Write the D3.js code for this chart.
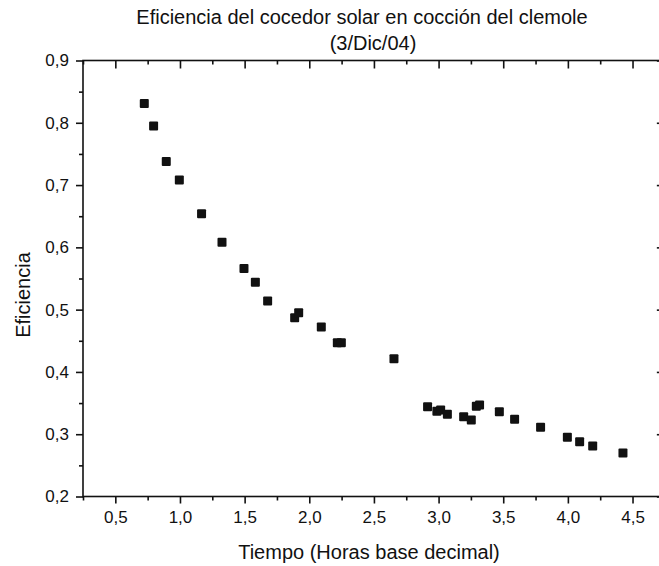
<!DOCTYPE html>
<html>
<head>
<meta charset="utf-8">
<script src="https://cdn.jsdelivr.net/npm/d3@7"></script>
<style>
  body { margin: 0; background: #fff; }
  text { font-family: "Liberation Sans", Arial, sans-serif; fill: #111; }
</style>
</head>
<body>
<div id="chart"></div>
<script>
// data (time in decimal hours, efficiency)
var tiempo = [0.724, 0.796, 0.894, 0.995, 1.167, 1.325, 1.495, 1.583, 1.678, 1.887, 1.918,
    2.093, 2.217, 2.248, 2.655, 2.915, 2.987, 3.016, 3.068, 3.194, 3.253, 3.292, 3.317,
    3.47, 3.588, 3.789, 3.996, 4.091, 4.192, 4.426];
var eficiencia = [0.831, 0.795, 0.738, 0.708, 0.654, 0.608, 0.566, 0.544, 0.514, 0.487, 0.495,
    0.472, 0.447, 0.447, 0.421, 0.344, 0.337, 0.339, 0.332, 0.328, 0.323, 0.345, 0.347,
    0.336, 0.324, 0.311, 0.295, 0.288, 0.281, 0.270];
var xTicks = [0.5, 1.0, 1.5, 2.0, 2.5, 3.0, 3.5, 4.0, 4.5];
var yTicks = [0.2, 0.3, 0.4, 0.5, 0.6, 0.7, 0.8, 0.9];

var W = 659, H = 566;
var margin = {top: 60.5, left: 83, bottom: 69.5};

var x = d3.scaleLinear().domain([0.25, 4.75]).range([margin.left, margin.left + 4.5 * 129.3]);
var y = d3.scaleLinear().domain([0.2, 0.9]).range([H - margin.bottom, margin.top]);

var fmt = function(d) { return d3.format(".1f")(d).replace(".", ","); };

var svg = d3.select("#chart").append("svg")
    .attr("width", W)
    .attr("height", H);

var xMinor = d3.range(0.25, 4.8, 0.5);
var yMinor = d3.range(0.25, 0.9, 0.1);

// bottom axis, ticks outward
svg.append("g")
    .attr("transform", "translate(0," + y(0.2) + ")")
    .call(d3.axisBottom(x).tickValues(xTicks).tickFormat(fmt).tickSize(7).tickPadding(7))
    .call(function(g) { g.select(".domain").remove(); })
    .call(function(g) { g.selectAll("text").style("font-size", "17px").attr("font-family", null); });
svg.append("g")
    .attr("transform", "translate(0," + y(0.2) + ")")
    .call(d3.axisBottom(x).tickValues(xMinor).tickFormat("").tickSize(4))
    .call(function(g) { g.select(".domain").remove(); });

// left axis, ticks outward
svg.append("g")
    .attr("transform", "translate(" + x(0.25) + ",0)")
    .call(d3.axisLeft(y).tickValues(yTicks).tickFormat(fmt).tickSize(7).tickPadding(7))
    .call(function(g) { g.select(".domain").remove(); })
    .call(function(g) { g.selectAll("text").style("font-size", "17px").attr("font-family", null); });
svg.append("g")
    .attr("transform", "translate(" + x(0.25) + ",0)")
    .call(d3.axisLeft(y).tickValues(yMinor).tickFormat("").tickSize(4))
    .call(function(g) { g.select(".domain").remove(); });

// top axis, ticks inward
svg.append("g")
    .attr("transform", "translate(0," + y(0.9) + ")")
    .call(d3.axisBottom(x).tickValues(xTicks).tickFormat("").tickSize(8))
    .call(function(g) { g.select(".domain").remove(); });
svg.append("g")
    .attr("transform", "translate(0," + y(0.9) + ")")
    .call(d3.axisBottom(x).tickValues(xMinor).tickFormat("").tickSize(4))
    .call(function(g) { g.select(".domain").remove(); });

// right axis, ticks inward (axis itself falls just past the window edge)
svg.append("g")
    .attr("transform", "translate(" + x(4.75) + ",0)")
    .call(d3.axisLeft(y).tickValues(yTicks).tickFormat("").tickSize(8))
    .call(function(g) { g.select(".domain").remove(); });
svg.append("g")
    .attr("transform", "translate(" + x(4.75) + ",0)")
    .call(d3.axisLeft(y).tickValues(yMinor).tickFormat("").tickSize(4))
    .call(function(g) { g.select(".domain").remove(); });

svg.selectAll(".tick line").attr("stroke", "#111").attr("stroke-width", 1.6);

// frame
svg.append("rect")
    .attr("x", x(0.25))
    .attr("y", y(0.9))
    .attr("width", x(4.75) - x(0.25))
    .attr("height", y(0.2) - y(0.9))
    .attr("fill", "none")
    .attr("stroke", "#111")
    .attr("stroke-width", 1.6);

// points
var pts = tiempo.map(function(t, i) { return {t: t, e: eficiencia[i]}; });
var s = 9;
svg.append("g").selectAll("rect")
    .data(pts)
    .enter().append("rect")
    .attr("x", function(d) { return x(d.t) - s / 2; })
    .attr("y", function(d) { return y(d.e) - s / 2; })
    .attr("width", s)
    .attr("height", s)
    .attr("rx", 1)
    .attr("fill", "#111");

// title
svg.append("text")
    .attr("x", 362)
    .attr("y", 24)
    .attr("text-anchor", "middle")
    .style("font-size", "20px")
    .text("Eficiencia del cocedor solar en cocción del clemole");
svg.append("text")
    .attr("x", 373)
    .attr("y", 50)
    .attr("text-anchor", "middle")
    .style("font-size", "20px")
    .text("(3/Dic/04)");

// axis labels
svg.append("text")
    .attr("x", 369)
    .attr("y", 559)
    .attr("text-anchor", "middle")
    .style("font-size", "20px")
    .text("Tiempo (Horas base decimal)");

svg.append("text")
    .attr("transform", "translate(30,295) rotate(-90)")
    .attr("text-anchor", "middle")
    .style("font-size", "20px")
    .text("Eficiencia");
</script>
</body>
</html>
